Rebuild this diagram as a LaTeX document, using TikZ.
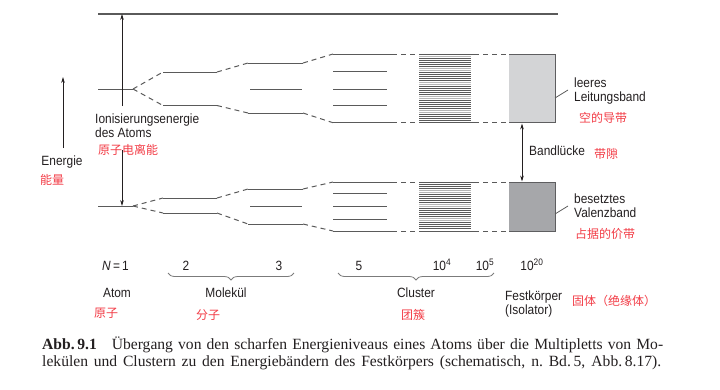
\documentclass[tikz,border=0pt]{standalone}
\usepackage{fontspec}
\setmainfont{Liberation Serif}
\setsansfont{Liberation Sans}[FakeStretch=0.89]
\newfontfamily\cjk{Noto Sans CJK SC}
\usetikzlibrary{arrows.meta,decorations.pathreplacing}
\definecolor{lvlc}{HTML}{5A5A5A}
\definecolor{txt}{HTML}{231F20}
\definecolor{redc}{HTML}{F23C46}
\definecolor{boxlight}{HTML}{D3D4D6}
\definecolor{boxdark}{HTML}{A6A7AA}
\definecolor{boxedge}{HTML}{5E5E60}
\begin{document}
\begin{tikzpicture}[x=1pt,y=-1pt,
  lvl/.style={draw=lvlc, line width=1pt},
  dsh/.style={draw=lvlc, line width=1pt, dash pattern=on 5pt off 4pt},
  arr/.style={draw=txt, line width=0.8pt, -{Stealth[length=6pt,width=3.6pt]}},
  darr/.style={draw=txt, line width=0.8pt, {Stealth[length=6pt,width=3.6pt]}-{Stealth[length=6pt,width=3.6pt]}},
  lab/.style={font=\sffamily\fontsize{13.4}{14.5}\selectfont, text=txt, inner sep=0pt, align=left},
  cn/.style={font=\cjk\fontsize{12}{14}\selectfont, text=redc, inner sep=0pt},
  brc/.style={draw=lvlc!80, line width=0.8pt, decorate, decoration={brace, mirror, amplitude=7pt}},
  edge/.style={draw=boxedge, line width=1pt},
  leader/.style={draw=lvlc, line width=0.8pt}
]
\useasboundingbox (0,0) rectangle (720,389);

% top line (ionisation limit)
\draw[draw=lvlc, line width=1.2pt] (98,14) coordinate (topL) -- (558,14) coordinate (topR);

% ===== upper group =====
\coordinate (ua0) at (98,89); \coordinate (ua1) at (133,89);
\draw[lvl] (ua0) -- (ua1);
% molecule 2
\draw[lvl] (163,72) coordinate (um2t0) -- (217,72) coordinate (um2t1);
\draw[lvl] (163,105.5) coordinate (um2b0) -- (217,105.5) coordinate (um2b1);
\draw[dsh] (ua1) -- (um2t0);
\draw[dsh] (ua1) -- (um2b0);
% molecule 3
\draw[lvl] (248,63) coordinate (um3t0) -- (303,63) coordinate (um3t1);
\draw[lvl] (250,89) -- (302,89);
\draw[lvl] (248,113) coordinate (um3b0) -- (303,113) coordinate (um3b1);
\draw[dsh] (um2t1) -- (um3t0);
\draw[dsh] (um2b1) -- (um3b0);
% cluster 5
\draw[lvl] (333,54) coordinate (uc5t0) -- (392,54) coordinate (uc5t1);
\draw[lvl] (333,71.5) -- (387,71.5);
\draw[lvl] (333,89) -- (387,89);
\draw[lvl] (333,105.5) -- (387,105.5);
\draw[lvl] (333,122.7) coordinate (uc5b0) -- (392,122.7) coordinate (uc5b1);
\draw[dsh] (um3t1) -- (uc5t0);
\draw[dsh] (um3b1) -- (uc5b0);
% hatched block
\draw[dsh] (uc5t1) -- (419,54) coordinate (uht0);
\draw[dsh] (uc5b1) -- (419,122.7) coordinate (uhb0);
\draw[lvl] (uht0) -- (474,54) coordinate (uht1);
\draw[lvl] (uhb0) -- (474,122.7) coordinate (uhb1);
\foreach \i in {1,...,33}{
  \pgfmathsetmacro\yy{54+\i*2.02}
  \pgfmathtruncatemacro\m{mod(\i,7)}
  \ifnum\m<2 \def\cc{lvlc!45}\else\def\cc{lvlc}\fi
  \draw[draw=\cc, line width=0.95pt] (419,\yy) -- (471,\yy);
}
\draw[dsh] (uht1) -- (509,54) coordinate (ubox0);
\draw[dsh] (uhb1) -- (509,122.7) coordinate (ubox3);
% conduction band box
\fill[boxlight] (509,54) rectangle (555,122.7);
\draw[edge] (ubox0) -- (555,54) coordinate (ubox1) -- (555,122.7) coordinate (ubox2) -- (ubox3);

% ===== lower group =====
\coordinate (la0) at (98,206); \coordinate (la1) at (133,206);
\draw[lvl] (la0) -- (la1);
\draw[lvl] (163,198) coordinate (lm2t0) -- (217,198) coordinate (lm2t1);
\draw[lvl] (163,213) coordinate (lm2b0) -- (217,213) coordinate (lm2b1);
\draw[dsh] (la1) -- (lm2t0);
\draw[dsh] (la1) -- (lm2b0);
\draw[lvl] (248,189) coordinate (lm3t0) -- (303,189) coordinate (lm3t1);
\draw[lvl] (250,206) -- (302,206);
\draw[lvl] (248,224) coordinate (lm3b0) -- (303,224) coordinate (lm3b1);
\draw[dsh] (lm2t1) -- (lm3t0);
\draw[dsh] (lm2b1) -- (lm3b0);
\draw[lvl] (333,182) coordinate (lc5t0) -- (392,182) coordinate (lc5t1);
\draw[lvl] (333,193.5) -- (387,193.5);
\draw[lvl] (333,206) -- (387,206);
\draw[lvl] (333,219) -- (387,219);
\draw[lvl] (333,231) coordinate (lc5b0) -- (392,231) coordinate (lc5b1);
\draw[dsh] (lm3t1) -- (lc5t0);
\draw[dsh] (lm3b1) -- (lc5b0);
\draw[dsh] (lc5t1) -- (419,182) coordinate (lht0);
\draw[dsh] (lc5b1) -- (419,231) coordinate (lhb0);
\draw[lvl] (lht0) -- (474,182) coordinate (lht1);
\draw[lvl] (lhb0) -- (474,231) coordinate (lhb1);
\foreach \i in {1,...,23}{
  \pgfmathsetmacro\yy{182+\i*2.04}
  \pgfmathtruncatemacro\m{mod(\i+3,7)}
  \ifnum\m<2 \def\cc{lvlc!45}\else\def\cc{lvlc}\fi
  \draw[draw=\cc, line width=0.95pt] (419,\yy) -- (471,\yy);
}
\draw[dsh] (lht1) -- (509,182) coordinate (lbox0);
\draw[dsh] (lhb1) -- (509,231) coordinate (lbox3);
\fill[boxdark] (509,182) rectangle (555,231);
\draw[edge] (lbox0) -- (555,182) coordinate (lbox1) -- (555,231) coordinate (lbox2) -- (lbox3);

% ===== arrows =====
\coordinate (ionUp0) at (122,106); \coordinate (ionUp1) at (122,14);
\coordinate (ionDn0) at (122,150); \coordinate (ionDn1) at (122,206);
\draw[arr] (ionUp0) -- (ionUp1);
\draw[arr] (ionDn0) -- (ionDn1);
\coordinate (en0) at (63,148); \coordinate (en1) at (63,77);
\draw[arr] (en0) -- (en1);
\coordinate (bg0) at (522,123.5); \coordinate (bg1) at (522,181.5);
\draw[darr] (bg0) -- (bg1);

% leaders
\coordinate (ul0) at (555,98); \coordinate (ul1) at (568,90);
\coordinate (ll0) at (555,214); \coordinate (ll1) at (568,206);
\draw[leader] (ul0) -- (ul1);
\draw[leader] (ll0) -- (ll1);

% ===== labels =====
\node[lab, anchor=base west] (ion) at (95,137.5) {Ionisierungsenergie\\des Atoms};
\node[cn, anchor=base west] (ionc) at (98,154.5) {原子电离能};
\node[lab, anchor=base] (energ) at (62,165.5) {Energie};
\node[cn, anchor=base] (energc) at (52,184.5) {能量};
\node[lab, anchor=base west] (leer) at (574,101.5) {leeres\\Leitungsband};
\node[cn, anchor=base west] (leerc) at (579,122.5) {空的导带};
\node[lab, anchor=base west] (bl) at (529,155.5) {Bandlücke};
\node[cn, anchor=base west] (blc) at (594,158.5) {带隙};
\node[lab, anchor=base west] (bes) at (574,217.5) {besetztes\\Valenzband};
\node[cn, anchor=base west] (besc) at (575,238.5) {占据的价带};

% N row
\node[lab, anchor=base west] (n1) at (102,270.5) {\textit{N}\,=\,1};
\node[lab, anchor=base] (n2) at (186,270.5) {2};
\node[lab, anchor=base] (n3) at (279,270.5) {3};
\node[lab, anchor=base] (n5) at (359,270.5) {5};
\node[lab, anchor=base] (n4) at (442,270.5) {10\textsuperscript{4}};
\node[lab, anchor=base] (n55) at (485,270.5) {10\textsuperscript{5}};
\node[lab, anchor=base] (n20) at (532,270.5) {10\textsuperscript{20}};

% braces
\coordinate (mb0) at (168,273); \coordinate (mb1) at (294,273);
\coordinate (cb0) at (338,273); \coordinate (cb1) at (494,273);
\draw[brc] (mb0) -- (mb1);
\draw[brc] (cb0) -- (cb1);

\node[lab, anchor=base] (atom) at (117,297.5) {Atom};
\node[lab, anchor=base] (mol) at (226,297.5) {Molekül};
\node[lab, anchor=base] (clu) at (416,297.5) {Cluster};
\node[lab, anchor=base west] (fest) at (505,314.5) {Festkörper\\(Isolator)};
\node[cn, anchor=base west] (festc) at (572,305) {固体（绝缘体）};
\node[cn, anchor=base] (atomc) at (106,317.5) {原子};
\node[cn, anchor=base] (molc) at (208,319.5) {分子};
\node[cn, anchor=base] (cluc) at (413,319.5) {团簇};

% caption
\node[anchor=base west, inner sep=0pt, text=txt, font=\fontsize{15.6}{17}\selectfont] (cap1) at (42,349.5)
  {\makebox[621pt][s]{\textbf{Abb.\,9.1}\hspace{15pt}Übergang von den scharfen Energieniveaus eines Atoms über die Multipletts von Mo-}};
\node[anchor=base west, inner sep=0pt, text=txt, font=\fontsize{15.6}{17}\selectfont] (cap2) at (42,366.5)
  {\makebox[619pt][s]{lekülen und Clustern zu den Energiebändern des Festkörpers (schematisch, n.~Bd.\,5, Abb.\,8.17).}};
\end{tikzpicture}
\end{document}
